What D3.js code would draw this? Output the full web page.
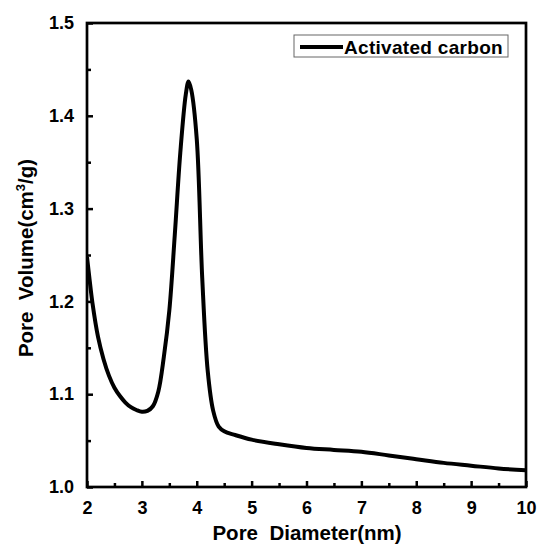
<!DOCTYPE html>
<html>
<head>
<meta charset="utf-8">
<script src="https://cdn.jsdelivr.net/npm/d3@7"></script>
<style>
  body { margin: 0; background: #fff; }
  svg text { font-family: "Liberation Sans", Arial, sans-serif; font-weight: bold; fill: #000; }
</style>
</head>
<body>
<svg id="chart" width="542" height="547"></svg>
<script>
const diameter = [2.0, 2.05, 2.1, 2.2, 2.3, 2.4, 2.5, 2.6, 2.7, 2.8, 2.9, 3.0, 3.1, 3.2, 3.3, 3.4, 3.5, 3.6, 3.7, 3.8, 3.85, 3.9, 4.0, 4.1, 4.2, 4.3, 4.4, 4.5, 4.7, 5.0, 5.5, 6.0, 6.5, 7.0, 7.5, 8.0, 8.5, 9.0, 9.5, 10.0];
const poreVolume = [1.248, 1.222, 1.198, 1.162, 1.138, 1.120, 1.107, 1.098, 1.091, 1.086, 1.083, 1.081, 1.082, 1.087, 1.103, 1.140, 1.190, 1.272, 1.360, 1.423, 1.437, 1.428, 1.375, 1.225, 1.125, 1.082, 1.065, 1.060, 1.056, 1.051, 1.046, 1.042, 1.040, 1.038, 1.034, 1.030, 1.026, 1.023, 1.020, 1.018];
const xTicks = [2, 3, 4, 5, 6, 7, 8, 9, 10];
const yTicks = [1.0, 1.1, 1.2, 1.3, 1.4, 1.5];
const seriesName = "Activated carbon";

const svg = d3.select("#chart");
const pL = 87, pR = 526, pT = 23, pB = 487;
const x = d3.scaleLinear().domain([2, 10]).range([pL, pR]);
const y = d3.scaleLinear().domain([1.0, 1.5]).range([pB, pT]);

// curve
const pts = diameter.map((d, i) => [d, poreVolume[i]]);
const line = d3.line().x(d => x(d[0])).y(d => y(d[1])).curve(d3.curveCatmullRom.alpha(0.5));
svg.append("defs").append("clipPath").attr("id", "clip")
  .append("rect").attr("x", pL).attr("y", pT).attr("width", pR - pL).attr("height", pB - pT);
svg.append("path").datum(pts).attr("d", line)
  .attr("fill", "none").attr("stroke", "#000").attr("stroke-width", 4)
  .attr("stroke-linejoin", "round").attr("clip-path", "url(#clip)");

// axes
const xMinor = d3.range(2.5, 10, 1);
const yMinor = d3.range(1.05, 1.5, 0.1);
const xAxis = svg.append("g").attr("transform", `translate(0,${pB})`)
  .call(d3.axisBottom(x).tickValues(xTicks).tickFormat(d3.format("d")).tickSizeInner(-6).tickSizeOuter(0).tickPadding(14));
const xAxisMinor = svg.append("g").attr("transform", `translate(0,${pB})`)
  .call(d3.axisBottom(x).tickValues(xMinor).tickFormat("").tickSizeInner(-4).tickSizeOuter(0));
const yAxis = svg.append("g").attr("transform", `translate(${pL},0)`)
  .call(d3.axisLeft(y).tickValues(yTicks).tickFormat(d3.format(".1f")).tickSizeInner(-6).tickSizeOuter(0).tickPadding(13));
const yAxisMinor = svg.append("g").attr("transform", `translate(${pL},0)`)
  .call(d3.axisLeft(y).tickValues(yMinor).tickFormat("").tickSizeInner(-4).tickSizeOuter(0));
[xAxis, xAxisMinor, yAxis, yAxisMinor].forEach(g => {
  g.select(".domain").remove();
  g.selectAll("line").attr("stroke", "#000").attr("stroke-width", 2.5);
  g.selectAll("text").style("font-size", "18px").style("font-weight", "bold")
    .style("font-family", '"Liberation Sans", Arial, sans-serif');
});

// frame
svg.append("rect").attr("x", pL).attr("y", pT).attr("width", pR - pL).attr("height", pB - pT)
  .attr("fill", "none").attr("stroke", "#000").attr("stroke-width", 2.7);

// axis titles
svg.append("text").attr("x", 307).attr("y", 540).attr("text-anchor", "middle")
  .style("font-size", "20.5px").attr("xml:space", "preserve").text("Pore  Diameter(nm)");
const yt = svg.append("text").attr("transform", `translate(33,${(pT + pB) / 2 + 3}) rotate(-90)`)
  .attr("text-anchor", "middle").style("font-size", "20.5px").attr("xml:space", "preserve");
yt.append("tspan").text("Pore  Volume(cm");
yt.append("tspan").attr("dy", -8).style("font-size", "13px").text("3");
yt.append("tspan").attr("dy", 8).text("/g)");

// legend
const lg = svg.append("g");
lg.append("rect").attr("x", 294).attr("y", 35).attr("width", 214).attr("height", 22)
  .attr("fill", "#fff").attr("stroke", "#666").attr("stroke-width", 1);
lg.append("line").attr("x1", 300).attr("x2", 343).attr("y1", 47).attr("y2", 47)
  .attr("stroke", "#000").attr("stroke-width", 4);
lg.append("text").attr("x", 344).attr("y", 53.5).style("font-size", "19px").style("letter-spacing", "0.3px").text(seriesName);
</script>
</body>
</html>
